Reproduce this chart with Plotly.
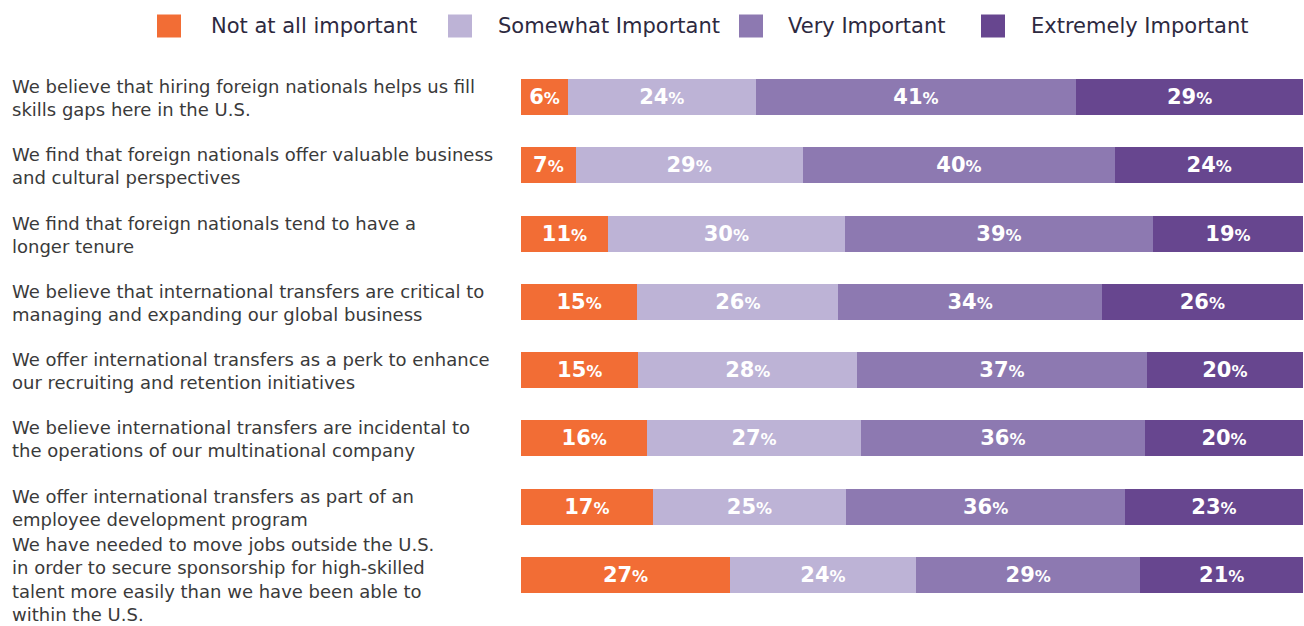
import plotly.graph_objects as go

statements = [
    "We believe that hiring foreign nationals helps us fill<br>skills gaps here in the U.S.",
    "We find that foreign nationals offer valuable business<br>and cultural perspectives",
    "We find that foreign nationals tend to have a<br>longer tenure",
    "We believe that international transfers are critical to<br>managing and expanding our global business",
    "We offer international transfers as a perk to enhance<br>our recruiting and retention initiatives",
    "We believe international transfers are incidental to<br>the operations of our multinational company",
    "We offer international transfers as part of an<br>employee development program",
    "We have needed to move jobs outside the U.S.<br>in order to secure sponsorship for high-skilled<br>talent more easily than we have been able to<br>within the U.S.",
]

series_names = ["Not at all important", "Somewhat Important", "Very Important", "Extremely Important"]
not_at_all = [6, 7, 11, 15, 15, 16, 17, 27]
somewhat = [24, 29, 30, 26, 28, 27, 25, 24]
very = [41, 40, 39, 34, 37, 36, 36, 29]
extremely = [29, 24, 19, 26, 20, 20, 23, 21]

colors = ["#F26D35", "#BDB3D6", "#8D79B1", "#67468F"]

FONT = "DejaVu Sans, sans-serif"
row_ids = list(range(len(statements)))

fig = go.Figure()
for name, vals, col in zip(series_names, [not_at_all, somewhat, very, extremely], colors):
    fig.add_trace(go.Bar(
        y=row_ids,
        x=vals,
        name=name,
        orientation="h",
        marker=dict(color=col, line=dict(width=0)),
        text=[f"<b>{v}</b><span style='font-size:16px'><b>%</b></span>" for v in vals],
        textposition="inside",
        insidetextanchor="middle",
        textangle=0,
        textfont=dict(family=FONT, size=21, color="white"),
        hoverinfo="skip",
        showlegend=False,
    ))

fig.update_layout(
    barmode="stack",
    barnorm="percent",
    bargap=0.47,
    width=1304,
    height=626,
    margin=dict(l=521, r=1, t=63, b=17),
    paper_bgcolor="white",
    plot_bgcolor="white",
    uniformtext=dict(mode="show", minsize=10),
    xaxis=dict(range=[0, 100], visible=False, fixedrange=True),
    yaxis=dict(range=[len(statements) - 0.5, -0.5], visible=False, fixedrange=True),
)

# Statement labels at the left of each bar
plot_w = 1304 - 521 - 1
label_x = (10 - 521) / plot_w
for i, s in enumerate(statements):
    fig.add_annotation(
        x=label_x, xref="paper", xanchor="left",
        y=i, yref="y", yanchor="middle",
        yshift=-5 if s.count("<br>") > 1 else -1,
        text=s, align="left", showarrow=False,
        font=dict(family=FONT, size=18, color="#3a3a3a"),
    )

# Legend row across the top
plot_h = 626 - 63 - 17
legend_y = 1 + (63 - 26) / plot_h
half = 11.5 / plot_h
swatch_x = [157, 448, 739, 981]
text_x = [209, 496, 786, 1029]
for name, col, sx, tx in zip(series_names, colors, swatch_x, text_x):
    x0 = (sx - 521) / plot_w
    x1 = (sx + 24 - 521) / plot_w
    fig.add_shape(type="rect", xref="paper", yref="paper",
                  x0=x0, x1=x1, y0=legend_y - half, y1=legend_y + half,
                  fillcolor=col, line=dict(width=0))
    fig.add_annotation(
        x=(tx - 521) / plot_w, xref="paper", xanchor="left",
        y=legend_y, yref="paper", yanchor="middle",
        text=name, showarrow=False,
        font=dict(family=FONT, size=21, color="#2d2940"),
    )

fig.write_html("out.html")
